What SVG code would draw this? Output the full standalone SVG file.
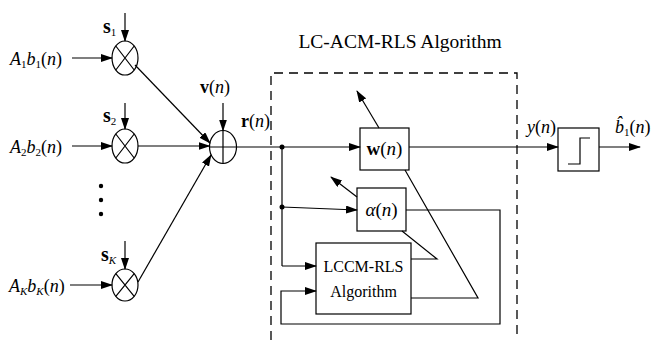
<svg xmlns="http://www.w3.org/2000/svg" width="659" height="341" viewBox="0 0 659 341">
<defs>
<marker id="ah" markerWidth="12" markerHeight="8" refX="11" refY="4" orient="auto" markerUnits="userSpaceOnUse">
<path d="M0,0 L12,4 L0,8 Z" fill="#000"/>
</marker>
<style>
.ln{stroke:#000;stroke-width:1.2;fill:none}
.bx{stroke:#000;stroke-width:1.2;fill:#fff}
.dash{stroke:#000;stroke-width:1.3;fill:none;stroke-dasharray:9,6}
text{font-family:"Liberation Serif","Times New Roman",serif;fill:#000}
.t{font-size:18px}
.s{font-size:16px}
.i{font-style:italic}
.b{font-weight:bold}
.sub{font-size:11px}
.sl{font-size:20px}
</style>
</defs>
<rect width="659" height="341" fill="#fff"/>

<path class="dash" d="M271,340 V73 H517 V340"/>
<text x="400" y="48" text-anchor="middle" style="font-size:19.5px">LC-ACM-RLS Algorithm</text>

<g id="mult1">
<ellipse class="bx" cx="125" cy="58" rx="13" ry="17"/>
<path class="ln" d="M115.8,46 L134.2,70 M134.2,46 L115.8,70"/>
</g>
<g id="mult2">
<ellipse class="bx" cx="125" cy="146" rx="13" ry="17"/>
<path class="ln" d="M115.8,134 L134.2,158 M134.2,134 L115.8,158"/>
</g>
<g id="multK">
<ellipse class="bx" cx="125" cy="285" rx="13" ry="16"/>
<path class="ln" d="M115.8,273.7 L134.2,296.3 M134.2,273.7 L115.8,296.3"/>
</g>
<g id="dots">
<circle cx="101" cy="186" r="2.2"/><circle cx="101" cy="200" r="2.2"/><circle cx="101" cy="214" r="2.2"/>
</g>
<g id="sum">
<ellipse class="bx" cx="223" cy="147" rx="13.5" ry="16.5"/>
<path class="ln" d="M209.5,147 H236.5 M223,130.5 V163.5"/>
</g>
<g id="w">
<rect class="bx" x="360" y="128" width="49" height="42"/>
<text class="t" x="384.5" y="155" text-anchor="middle" style="font-size:19px"><tspan class="b">w</tspan>(<tspan class="i">n</tspan>)</text>
</g>
<g id="alpha">
<rect class="bx" x="357" y="188" width="49" height="43"/>
<text class="t" x="381.5" y="216" text-anchor="middle" style="font-size:19px"><tspan class="i">α</tspan>(<tspan class="i">n</tspan>)</text>
</g>
<g id="lccm">
<rect class="bx" x="316" y="243" width="95" height="71"/>
<text class="s" x="363.5" y="272" text-anchor="middle">LCCM-RLS</text>
<text class="s" x="363.5" y="297" text-anchor="middle">Algorithm</text>
</g>
<g id="decision">
<rect class="bx" x="558" y="128" width="41" height="43"/>
<path class="ln" d="M568,164 H580 V138 H590"/>
</g>

<g id="labels">
<text class="t" x="10" y="65"><tspan class="i">A</tspan><tspan class="sub" dy="3">1</tspan><tspan class="i" dy="-3">b</tspan><tspan class="sub" dy="3">1</tspan><tspan dy="-3">(</tspan><tspan class="i">n</tspan>)</text>
<text class="t" x="10" y="153"><tspan class="i">A</tspan><tspan class="sub" dy="3">2</tspan><tspan class="i" dy="-3">b</tspan><tspan class="sub" dy="3">2</tspan><tspan dy="-3">(</tspan><tspan class="i">n</tspan>)</text>
<text class="t" x="9" y="292"><tspan class="i">A</tspan><tspan class="sub i" dy="3">K</tspan><tspan class="i" dy="-3">b</tspan><tspan class="sub i" dy="3">K</tspan><tspan dy="-3">(</tspan><tspan class="i">n</tspan>)</text>
<text class="sl" x="103" y="33"><tspan class="b">s</tspan><tspan class="sub" dy="3">1</tspan></text>
<text class="sl" x="103" y="122"><tspan class="b">s</tspan><tspan class="sub" dy="3">2</tspan></text>
<text class="sl" x="101" y="261"><tspan class="b">s</tspan><tspan class="sub i" dy="3">K</tspan></text>
<text class="t" x="200" y="93"><tspan class="b">v</tspan>(<tspan class="i">n</tspan>)</text>
<text class="t" x="241" y="127"><tspan class="b">r</tspan>(<tspan class="i">n</tspan>)</text>
<text class="t" x="527" y="133"><tspan class="i">y</tspan>(<tspan class="i">n</tspan>)</text>
<text class="t" x="615" y="133"><tspan class="i">b̂</tspan><tspan class="sub" dy="3">1</tspan><tspan dy="-3">(</tspan><tspan class="i">n</tspan>)</text>
</g>

<g id="connectors">
<path class="ln" marker-end="url(#ah)" d="M72,58 H112"/>
<path class="ln" marker-end="url(#ah)" d="M72,146 H112"/>
<path class="ln" marker-end="url(#ah)" d="M70,285 H112"/>
<path class="ln" marker-end="url(#ah)" d="M125,13 V41"/>
<path class="ln" marker-end="url(#ah)" d="M125,103 V129"/>
<path class="ln" marker-end="url(#ah)" d="M125,241 V269"/>
<path class="ln" marker-end="url(#ah)" d="M135,65 L210,143"/>
<path class="ln" marker-end="url(#ah)" d="M138,146 H209.5"/>
<path class="ln" marker-end="url(#ah)" d="M138,282 L211,155"/>
<path class="ln" marker-end="url(#ah)" d="M223,103 V130.5"/>
<path class="ln" marker-end="url(#ah)" d="M236.5,147 H360"/>
<circle cx="282" cy="147" r="2.5"/>
<path class="ln" d="M282,147 V266"/>
<circle cx="282" cy="207" r="2.5"/>
<path class="ln" marker-end="url(#ah)" d="M282,207 L357,210"/>
<path class="ln" marker-end="url(#ah)" d="M282,266 H316"/>
<path class="ln" marker-end="url(#ah)" d="M406,210 H500 V324 H281 V291 H316"/>
<path class="ln" marker-end="url(#ah)" d="M379,128 L357,91"/>
<path class="ln" marker-end="url(#ah)" d="M357,197 L331,177"/>
<path class="ln" d="M402,231 L437,259 H411"/>
<path class="ln" d="M405,170 L478,298 H411"/>
<path class="ln" marker-end="url(#ah)" d="M409,147 H558"/>
<path class="ln" marker-end="url(#ah)" d="M599,147 H640"/>
</g>
</svg>
